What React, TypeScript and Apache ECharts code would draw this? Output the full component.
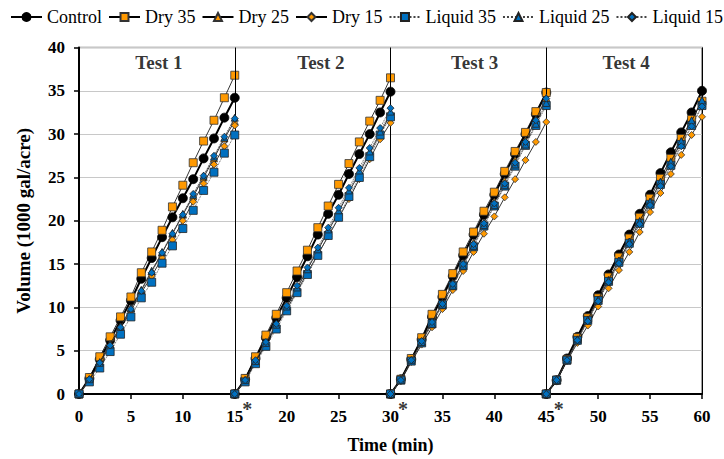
import React, { useEffect, useRef } from "react";
import * as echarts from "echarts";

// ---- data ----
const minutes = [0, 1, 2, 3, 4, 5, 6, 7, 8, 9, 10, 11, 12, 13, 14, 15];
const testStarts = [0, 15, 30, 45];
const testNames = ["Test 1", "Test 2", "Test 3", "Test 4"];
const treatmentNames = ["Control", "Dry 35", "Dry 25", "Dry 15", "Liquid 35", "Liquid 25", "Liquid 15"];

const control = [
  [0, 1.8, 4.0, 6.2, 8.5, 10.8, 13.3, 15.7, 18.1, 20.4, 22.6, 24.8, 27.2, 29.5, 31.9, 34.2],
  [0, 1.7, 4.1, 6.5, 8.8, 11.1, 13.5, 15.9, 18.4, 20.8, 23.0, 25.4, 27.7, 30.0, 32.5, 34.9],
  [0, 1.7, 4.0, 6.3, 8.9, 11.2, 13.6, 16.0, 18.4, 20.7, 23.0, 25.4, 27.7, 30.0, 32.3, 34.8],
  [0, 1.6, 4.1, 6.6, 9.0, 11.4, 13.8, 16.1, 18.4, 20.8, 23.0, 25.5, 27.9, 30.2, 32.5, 35.0],
];
const dry35 = [
  [0, 1.9, 4.3, 6.6, 8.9, 11.2, 14.0, 16.4, 18.9, 21.6, 24.1, 26.7, 29.2, 31.6, 34.2, 36.8],
  [0, 1.8, 4.3, 6.8, 9.2, 11.7, 14.2, 16.6, 19.2, 21.7, 24.2, 26.6, 29.1, 31.5, 33.9, 36.5],
  [0, 1.7, 4.1, 6.5, 9.2, 11.5, 13.9, 16.4, 18.7, 21.1, 23.3, 25.7, 28.0, 30.2, 32.6, 34.8],
  [0, 1.6, 4.0, 6.5, 8.8, 11.1, 13.5, 15.8, 18.0, 20.4, 22.6, 24.9, 27.2, 29.5, 31.7, 33.8],
];
const dry25 = [
  [0, 1.7, 3.7, 5.8, 7.8, 9.9, 12.0, 14.2, 16.3, 18.5, 20.7, 22.8, 25.0, 27.2, 29.5, 31.5],
  [0, 1.6, 3.8, 5.9, 8.0, 10.1, 12.2, 14.4, 16.6, 18.8, 21.0, 23.3, 25.5, 27.8, 30.1, 32.3],
  [0, 1.7, 3.9, 6.1, 8.3, 10.5, 12.8, 15.1, 17.5, 19.8, 22.2, 24.6, 27.0, 29.3, 31.7, 34.2],
  [0, 1.6, 3.9, 6.3, 8.6, 10.9, 13.2, 15.4, 17.6, 20.0, 22.2, 24.5, 26.8, 29.1, 31.5, 33.9],
];
const dry15 = [
  [0, 1.6, 3.6, 5.6, 7.6, 9.6, 11.7, 13.6, 15.7, 17.8, 20.0, 22.2, 24.3, 26.5, 28.6, 31.0],
  [0, 1.5, 3.7, 5.7, 7.8, 9.8, 11.9, 14.0, 16.1, 18.2, 20.3, 22.5, 24.8, 27.1, 29.4, 31.3],
  [0, 1.5, 3.7, 5.7, 7.7, 9.8, 12.0, 14.2, 16.4, 18.5, 20.5, 22.7, 24.8, 27.0, 29.1, 31.4],
  [0, 1.5, 3.8, 5.9, 7.9, 10.1, 12.2, 14.3, 16.4, 18.7, 21.0, 23.2, 25.4, 27.6, 29.9, 32.0],
];
const liquid35 = [
  [0, 1.4, 3.0, 4.9, 6.9, 8.9, 11.1, 12.9, 15.1, 17.1, 19.1, 21.2, 23.5, 25.6, 27.8, 29.9],
  [0, 1.4, 3.5, 5.5, 7.5, 9.6, 11.7, 13.8, 16.0, 18.3, 20.4, 22.8, 25.0, 27.4, 29.9, 32.0],
  [0, 1.6, 3.8, 5.9, 8.1, 10.3, 12.5, 14.8, 17.0, 19.4, 21.7, 24.0, 26.3, 28.7, 31.0, 33.3],
  [0, 1.6, 3.9, 6.2, 8.5, 10.8, 13.0, 15.2, 17.4, 19.7, 21.9, 24.2, 26.4, 28.8, 31.0, 33.3],
];
const liquid25 = [
  [0, 1.7, 3.6, 5.7, 7.8, 9.9, 12.0, 14.2, 16.4, 18.6, 20.8, 23.0, 25.2, 27.4, 29.6, 31.9],
  [0, 1.6, 3.8, 5.9, 8.0, 10.1, 12.3, 14.4, 16.7, 19.0, 21.2, 23.5, 25.8, 28.0, 30.3, 32.6],
  [0, 1.6, 3.9, 6.0, 8.1, 10.3, 12.5, 14.8, 17.1, 19.5, 21.8, 24.1, 26.5, 28.8, 31.2, 33.6],
  [0, 1.6, 3.9, 6.3, 8.6, 10.9, 13.1, 15.4, 17.6, 19.9, 22.2, 24.5, 26.8, 29.2, 31.6, 33.9],
];
const liquid15 = [
  [0, 1.7, 3.6, 5.6, 7.7, 9.8, 11.9, 14.0, 16.3, 18.5, 20.7, 23.1, 25.2, 27.5, 29.7, 31.8],
  [0, 1.6, 3.9, 6.0, 8.1, 10.2, 12.5, 14.6, 16.9, 19.2, 21.5, 23.8, 26.1, 28.4, 30.7, 33.0],
  [0, 1.6, 3.9, 6.1, 8.3, 10.4, 12.7, 15.0, 17.3, 19.7, 22.0, 24.3, 26.7, 29.1, 31.6, 34.1],
  [0, 1.6, 3.9, 6.2, 8.4, 10.7, 12.9, 15.1, 17.3, 19.6, 21.8, 24.0, 26.3, 28.6, 30.9, 33.2],
];
const treatmentValues = [control, dry35, dry25, dry15, liquid35, liquid25, liquid15];

// ---- styles ----
const FONT = "'Liberation Serif', 'Times New Roman', serif";
const ORANGE = "#FF9900";
const BLUE = "#0070C0";
const styles = [
  { symbol: "circle", size: 9, color: "#000", border: "#000", line: { color: "#000", width: 2, type: "solid" } },
  { symbol: "rect", size: 8, color: ORANGE, border: "#333", line: { color: "#000", width: 0.8, type: "solid" } },
  { symbol: "triangle", size: 7, color: ORANGE, border: "#333", line: { color: "#000", width: 0.8, type: "solid" } },
  { symbol: "diamond", size: 7, color: ORANGE, border: "#333", line: { color: "#000", width: 0.8, type: "solid" } },
  { symbol: "rect", size: 8, color: BLUE, border: "#222", line: { color: "#444", width: 0.9, type: "dotted" } },
  { symbol: "triangle", size: 7, color: BLUE, border: "#222", line: { color: "#444", width: 0.9, type: "dotted" } },
  { symbol: "diamond", size: 7, color: BLUE, border: "#222", line: { color: "#444", width: 0.9, type: "dotted" } },
];
const titleX = [7.7, 23.3, 38.1, 52.7];
const titleY = 38.3;
const starX = [16.2, 31.2, 46.2];

export default function App() {
  const ref = useRef<HTMLDivElement>(null);
  useEffect(() => {
    if (!ref.current) return;
    const chart = echarts.init(ref.current, null, { renderer: "svg" });
    const series: any[] = [];
    treatmentValues.forEach((vals, ti) => {
      const st = styles[ti];
      vals.forEach((row, k) => {
        const s: any = {
          name: treatmentNames[ti],
          type: "line",
          data: minutes.map((m, i) => [m + testStarts[k], row[i]]),
          symbol: st.symbol,
          symbolSize: st.size,
          showAllSymbol: true,
          itemStyle: { color: st.color, borderColor: st.border, borderWidth: 0.8 },
          lineStyle: st.line,
          emphasis: { disabled: true },
          z: 3 + ti,
        };
        if (ti === 0 && k === 0) {
          s.markLine = {
            silent: true,
            symbol: "none",
            label: { show: false },
            lineStyle: { color: "#000", width: 1, type: "solid" },
            data: [{ xAxis: 15 }, { xAxis: 30 }, { xAxis: 45 }, { xAxis: 60 }],
          };
        }
        series.push(s);
      });
    });
    series.push({
      name: "__titles",
      type: "scatter",
      symbolSize: 0,
      silent: true,
      data: titleX.map((x) => [x, titleY]),
      label: {
        show: true,
        position: "inside",
        formatter: (p: any) => testNames[p.dataIndex],
        fontFamily: FONT,
        fontWeight: "bold",
        fontSize: 19,
        color: "#000",
      },
    });
    series.push({
      name: "__stars",
      type: "scatter",
      symbolSize: 0,
      silent: true,
      clip: false,
      data: starX.map((x) => [x, 0]),
      label: {
        show: true,
        position: "inside",
        offset: [0, 15],
        formatter: "*",
        fontFamily: FONT,
        fontWeight: "bold",
        fontSize: 20,
        color: "#000",
      },
    });

    chart.setOption({
      animation: false,
      backgroundColor: "#fff",
      textStyle: { fontFamily: FONT },
      legend: {
        data: treatmentNames,
        top: 8,
        left: 10,
        padding: 0,
        itemWidth: 31,
        itemHeight: 10,
        itemGap: 6,
        textStyle: { fontFamily: FONT, fontSize: 18, color: "#000" },
      },
      grid: {
        left: 79,
        right: 22,
        top: 47.5,
        bottom: 63,
        show: true,
        borderColor: "#808080",
        borderWidth: 1.5,
      },
      xAxis: {
        type: "value",
        min: 0,
        max: 60,
        interval: 5,
        name: "Time (min)",
        nameLocation: "middle",
        nameGap: 42,
        nameTextStyle: { fontFamily: FONT, fontWeight: "bold", fontSize: 18, color: "#000" },
        axisLine: { lineStyle: { color: "#000", width: 2 } },
        axisTick: { show: true, inside: false, length: 5, lineStyle: { color: "#000", width: 1.5 } },
        axisLabel: { fontFamily: FONT, fontWeight: "bold", fontSize: 17, color: "#000", margin: 14 },
        splitLine: { show: false },
      },
      yAxis: {
        type: "value",
        min: 0,
        max: 40,
        interval: 5,
        name: "Volume (1000 gal/acre)",
        nameLocation: "middle",
        nameGap: 46,
        nameTextStyle: { fontFamily: FONT, fontWeight: "bold", fontSize: 19, color: "#000" },
        axisLine: { show: true, lineStyle: { color: "#000", width: 2 } },
        axisTick: { show: true, inside: false, length: 5, lineStyle: { color: "#000", width: 1.5 } },
        axisLabel: { fontFamily: FONT, fontWeight: "bold", fontSize: 17, color: "#000", margin: 14 },
        splitLine: { show: true, lineStyle: { color: "#c8c8c8", width: 1 } },
      },
      series,
    });
    return () => chart.dispose();
  }, []);
  return (
    <div
      ref={ref}
      style={{ position: "fixed", left: 0, top: 0, width: 724, height: 459, background: "#fff" }}
    />
  );
}
